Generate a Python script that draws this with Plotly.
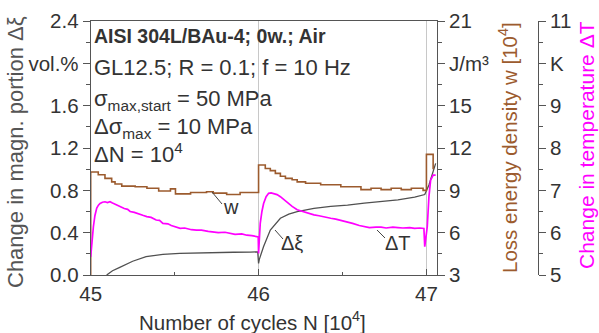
import plotly.graph_objects as go

# ---------------- data ----------------
# Loss energy density w [10^4 J/m^3] (stepped)
w_N = [45.0, 45.0, 45.045, 45.085, 45.125, 45.145, 45.185, 45.265, 45.335, 45.405, 45.475, 45.505,
       45.595, 45.69, 45.73, 45.81, 45.89,
       46.0, 46.04, 46.07, 46.10, 46.13, 46.16, 46.20, 46.23, 46.28, 46.37, 46.49, 46.61, 46.67,
       46.73, 46.79, 46.85, 46.91, 46.98,
       47.0, 47.04]
w_val = [3.0, 10.3, 10.1, 9.85, 9.6, 9.45, 9.3, 9.25, 9.15, 8.95, 9.1, 8.75,
         8.85, 8.9, 8.8, 8.7, 8.85,
         10.8, 10.55, 10.4, 10.2, 10.0, 9.85, 9.75, 9.6, 9.5, 9.4, 9.25, 9.05, 9.15,
         9.05, 9.15, 9.05, 9.15, 9.0,
         11.55, 10.5]

# Change in magnetic portion Δξ [vol.%]
xi_N = [45.095, 45.13, 45.17, 45.2, 45.25, 45.33, 45.43, 45.53, 45.63, 45.75, 45.85, 45.95, 45.995,
        46.0, 46.005, 46.03, 46.07, 46.13, 46.18, 46.23, 46.33, 46.43, 46.53, 46.63, 46.73, 46.83,
        46.93, 46.99, 47.015, 47.035, 47.055]
xi_val = [0.0, 0.04, 0.07, 0.095, 0.13, 0.173, 0.195, 0.205, 0.21, 0.215, 0.215, 0.217, 0.218,
          0.11, 0.15, 0.27, 0.425, 0.536, 0.575, 0.598, 0.63, 0.648, 0.66, 0.68, 0.693, 0.71,
          0.735, 0.76, 0.85, 0.95, 1.055]

# Change in temperature ΔT [K]
T_N = [45.0, 45.005, 45.01, 45.016, 45.025, 45.036, 45.046, 45.056, 45.07, 45.085, 45.1, 45.115,
       45.13, 45.155, 45.18, 45.2, 45.22, 45.235, 45.26, 45.29, 45.31, 45.334, 45.36, 45.39, 45.41,
       45.43, 45.46, 45.48, 45.5, 45.533, 45.56, 45.6, 45.63, 45.66, 45.7, 45.73, 45.76, 45.8,
       45.83, 45.86, 45.9, 45.93, 45.96, 45.99, 45.998,
       46.0, 46.005, 46.01, 46.02, 46.03, 46.045, 46.06, 46.075, 46.09, 46.11, 46.13, 46.16, 46.2,
       46.23, 46.26, 46.3, 46.33, 46.36, 46.4, 46.43, 46.46, 46.5, 46.53, 46.56, 46.6, 46.63,
       46.66, 46.7, 46.73, 46.76, 46.8, 46.83, 46.86, 46.9, 46.93, 46.96, 46.985,
       46.99, 47.005, 47.015, 47.025, 47.04, 47.055]
T_val = [5.43, 5.7, 5.95, 6.14, 6.4, 6.58, 6.65, 6.69, 6.72, 6.73, 6.71, 6.73,
         6.70, 6.65, 6.61, 6.57, 6.55, 6.50, 6.48, 6.43, 6.41, 6.38, 6.36, 6.30, 6.29,
         6.22, 6.21, 6.17, 6.14, 6.10, 6.11, 6.07, 6.06, 6.06, 6.03, 6.02, 6.0, 6.01,
         5.98, 5.96, 5.97, 5.94, 5.93, 5.91, 5.90,
         5.51, 5.8, 6.22, 6.5, 6.69, 6.85, 6.93, 6.94, 6.93, 6.9, 6.85, 6.75, 6.62,
         6.54, 6.5, 6.45, 6.42, 6.40, 6.36, 6.34, 6.32, 6.28, 6.26, 6.22, 6.17, 6.14,
         6.12, 6.13, 6.13, 6.11, 6.13, 6.12, 6.11, 6.12, 6.10, 6.11, 6.10,
         5.67, 6.14, 6.85, 7.24, 7.36, 7.36]

left_ticks = [0.0, 0.4, 0.8, 1.2, 1.6, 2.0, 2.4]
left_text = ["0.0", "0.4", "0.8", "1.2", "1.6", "vol.%", "2.4"]
w_ticks = [3, 6, 9, 12, 15, 18, 21]
w_text = ["3", "6", "9", "12", "15", "J/m³", "21"]
T_ticks = [5, 6, 7, 8, 9, 10, 11]
T_text = ["5", "6", "7", "8", "9", "K", "11"]
x_ticks = [45, 46, 47]

# ---------------- styling ----------------
FONT = "Liberation Sans, Arial, sans-serif"
TXT = "#333333"
AX = "#555555"
BROWN = "#9c5b2e"
MAG = "#ff00ff"
W, H = 599, 333
ML, MT, MB = 0, 21, 58
PH = H - MT - MB


def fx(px):
    return px / W


def fy(py):
    return (H - MB - py) / PH


fig = go.Figure()
fig.add_trace(go.Scatter(x=w_N, y=w_val, yaxis="y2", mode="lines", line=dict(color=BROWN, width=1.6, shape="hv"),
                         showlegend=False, hoverinfo="skip"))
fig.add_trace(go.Scatter(x=xi_N, y=xi_val, yaxis="y", mode="lines", line=dict(color="#505050", width=1.3),
                         showlegend=False, hoverinfo="skip"))
fig.add_trace(go.Scatter(x=T_N, y=T_val, yaxis="y3", mode="lines", line=dict(color=MAG, width=1.7),
                         showlegend=False, hoverinfo="skip"))

tickfont = dict(family=FONT, size=20.5, color=TXT)

fig.update_layout(
    width=W, height=H,
    margin=dict(l=ML, r=0, t=MT, b=MB, autoexpand=False),
    paper_bgcolor="white", plot_bgcolor="white",
    font=dict(family=FONT, color=TXT),
    xaxis=dict(domain=[fx(90.7), fx(437)], range=[45, 47.063], tickvals=x_ticks,
               ticks="inside", ticklen=6, tickcolor=AX, showline=True, linecolor=AX, linewidth=1,
               mirror=True, showgrid=True, gridcolor="#c8c8c8", gridwidth=1, zeroline=False,
               tickfont=tickfont, automargin=False,
               minor=dict(tickvals=[45.5, 46.5], ticks="inside", ticklen=3, tickcolor=AX, showgrid=False)),
    yaxis=dict(range=[0, 2.4], tickvals=left_ticks, ticktext=left_text, ticks="outside", ticklen=7,
               tickcolor=AX, showline=True, linecolor=AX, linewidth=1, showgrid=False, zeroline=False,
               tickfont=tickfont, automargin=False,
               minor=dict(tickvals=[0.2, 0.6, 1.0, 1.4, 1.8, 2.2], ticks="outside", ticklen=4, tickcolor=AX)),
    yaxis2=dict(range=[3, 21], overlaying="y", side="right", anchor="x", tickvals=w_ticks, ticktext=w_text,
                ticks="outside", ticklen=7, tickcolor=AX, showline=True, linecolor=AX, linewidth=1,
                showgrid=False, zeroline=False, tickfont=tickfont, automargin=False,
                minor=dict(tickvals=[4.5, 7.5, 10.5, 13.5, 16.5, 19.5], ticks="outside", ticklen=4, tickcolor=AX)),
    yaxis3=dict(range=[5, 11], overlaying="y", side="right", anchor="free", position=fx(538),
                tickvals=T_ticks, ticktext=T_text, ticks="outside", ticklen=7, tickcolor=AX, showline=True,
                linecolor=AX, linewidth=1, showgrid=False, zeroline=False, tickfont=tickfont, automargin=False,
                minor=dict(tickvals=[5.5, 6.5, 7.5, 8.5, 9.5, 10.5], ticks="outside", ticklen=4, tickcolor=AX)),
)

ann = []


def text(x, y, s, size=18, color=TXT, xanchor="left", angle=0):
    ann.append(dict(xref="paper", yref="paper", x=fx(x), y=fy(y), text=s, showarrow=False,
                    xanchor=xanchor, yanchor="middle", textangle=angle, borderpad=0,
                    font=dict(family=FONT, size=size, color=color)))


text(93, 36, "<b>AISI 304L/BAu-4; 0w.; Air</b>", 19.5)
text(93, 67, "GL12.5; R = 0.1; f = 10 Hz", 22)
text(93, 100, "σ<sub>max,start</sub> = 50 MPa", 22)
text(93, 128, "Δσ<sub>max</sub> = 10 MPa", 22)
text(93, 153, "ΔN = 10<sup>4</sup>", 22)

text(222, 207, "w", 20, xanchor="left")
text(280, 243, "Δξ", 20, xanchor="left")
text(384, 243, "ΔT", 20, xanchor="left")

text(252, 321, "Number of cycles N [10<sup>4</sup>]", 20.5, xanchor="center")
text(15, 152, "Change in magn. portion Δξ", 22, color="#555555", xanchor="center", angle=-90)
text(508, 148, "Loss energy density w [10<sup>4</sup>]", 20.5, color=BROWN, xanchor="center", angle=-90)
text(586, 145, "Change in temperature ΔT", 21, color=MAG, xanchor="center", angle=-90)

fig.update_layout(annotations=ann)

shapes = []
for (x0, y0, x1, y1) in [(212, 192, 222, 204), (275, 230, 283, 239), (377, 230, 385, 238)]:
    shapes.append(dict(type="line", xref="paper", yref="paper", x0=fx(x0), y0=fy(y0), x1=fx(x1), y1=fy(y1),
                       line=dict(color="#444444", width=1)))
fig.update_layout(shapes=shapes)

fig.write_html("out.html")
